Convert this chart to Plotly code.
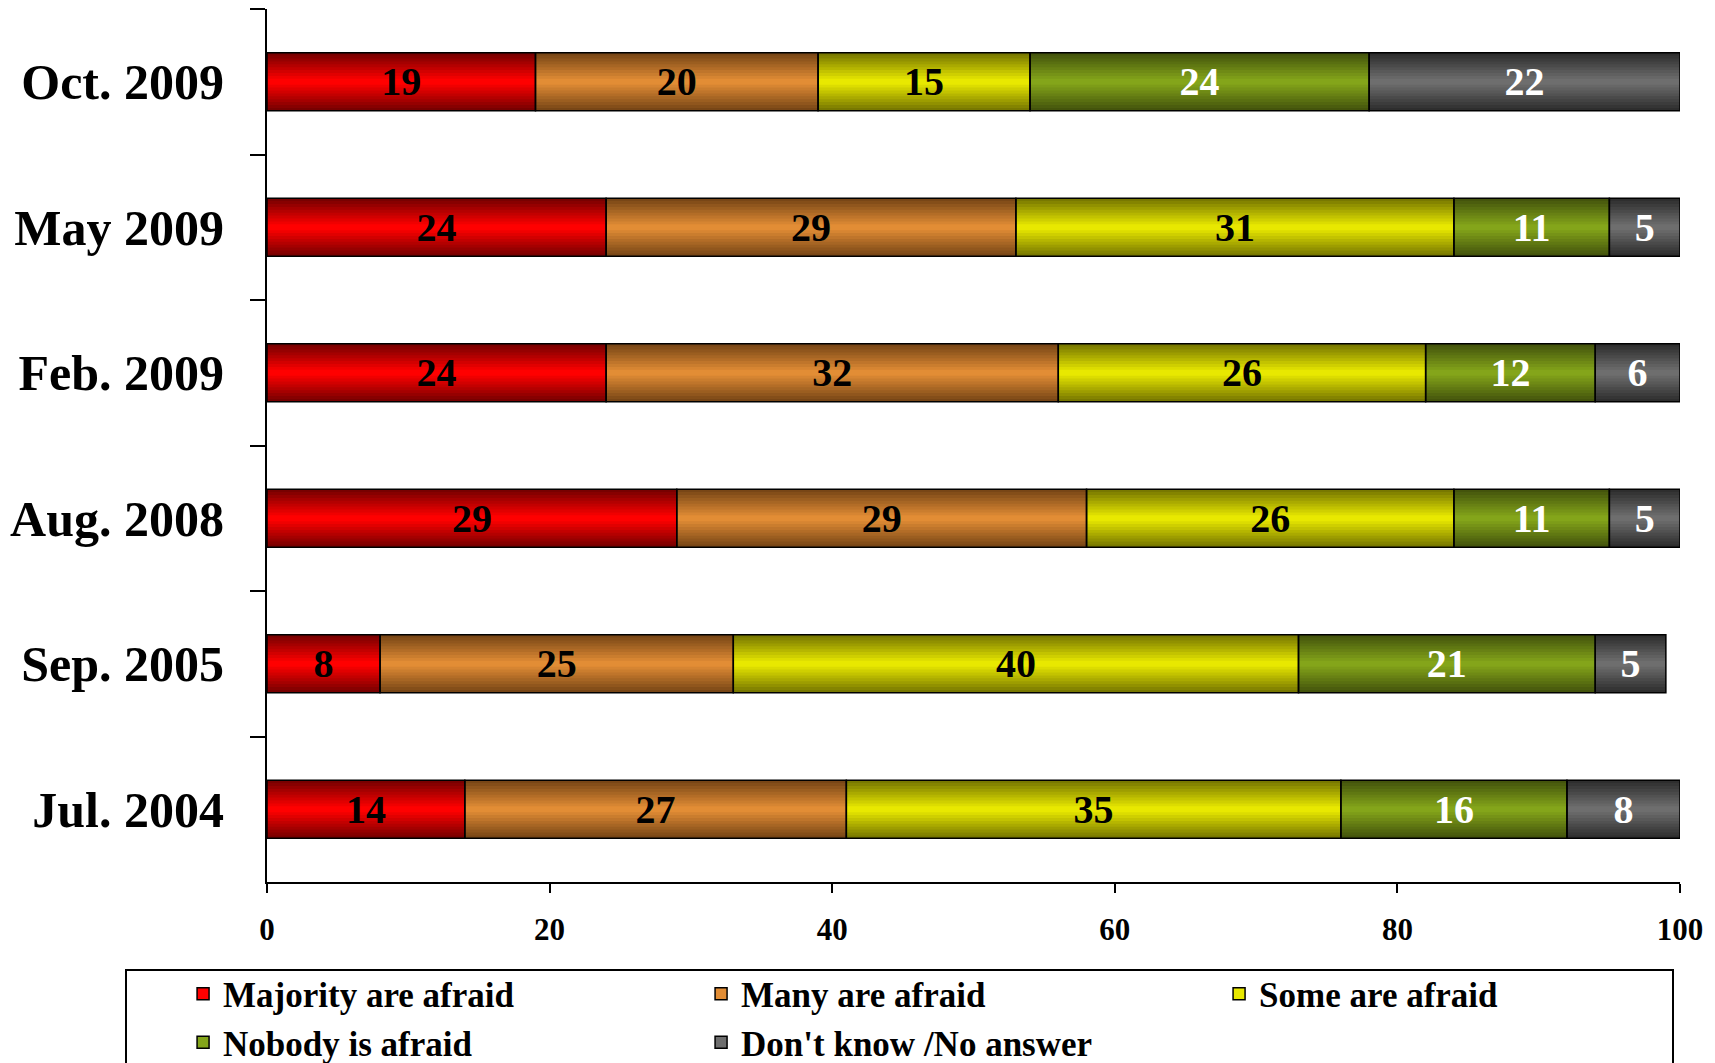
import plotly.graph_objects as go

dates = ["Oct. 2009", "May 2009", "Feb. 2009", "Aug. 2008", "Sep. 2005", "Jul. 2004"]
series_names = ["Majority are afraid", "Many are afraid", "Some are afraid",
                "Nobody is afraid", "Don't know /No answer"]
majority = [19, 24, 24, 29, 8, 14]
many = [20, 29, 32, 29, 25, 27]
some = [15, 31, 26, 26, 40, 35]
nobody = [24, 11, 12, 11, 21, 16]
dontknow = [22, 5, 6, 5, 5, 8]
values = [majority, many, some, nobody, dontknow]

center_colors = ["#ff0000", "#e28d35", "#e8e800", "#84a51a", "#6e6e6e"]
edge_colors = ["#780000", "#784616", "#787800", "#44540c", "#2e2e2e"]
text_colors = ["black", "black", "black", "white", "white"]

FONT = "Liberation Serif, Times New Roman, serif"
BAR_W = 0.4
N_LAYERS = 10

# layout geometry (figure pixels)
L, T, R, B = 259, 1, 43, 189
PW = 1715 - L - R
PH = 1063 - T - B


def hex2rgb(h):
    h = h.lstrip("#")
    return tuple(int(h[i:i + 2], 16) for i in (0, 2, 4))


def mix(c1, c2, t):
    a, b = hex2rgb(c1), hex2rgb(c2)
    return "rgb(%d,%d,%d)" % tuple(round(a[i] + (b[i] - a[i]) * t) for i in range(3))


fig = go.Figure()

bases = []
running = [0] * len(dates)
for vals in values:
    bases.append(list(running))
    running = [r + v for r, v in zip(running, vals)]

# gradient layers
for si, vals in enumerate(values):
    for k in range(N_LAYERS):
        t = k / (N_LAYERS - 1)
        w = BAR_W * (1 - k / N_LAYERS)
        fig.add_trace(go.Bar(
            y=dates, x=vals, base=bases[si], orientation="h",
            width=w,
            marker=dict(color=mix(edge_colors[si], center_colors[si], t), line=dict(width=0)),
            showlegend=False, hoverinfo="skip",
        ))

# legend entries
for si, name in enumerate(series_names):
    fig.add_trace(go.Bar(
        y=dates, x=[0] * len(dates), base=bases[si], orientation="h", width=0.0001,
        name=name, legendrank=si + 1,
        marker=dict(color=center_colors[si], line=dict(color="black", width=1.5)),
        showlegend=True, hoverinfo="skip",
    ))

# outline + text layer on top
for si, vals in enumerate(values):
    fig.add_trace(go.Bar(
        y=dates, x=vals, base=bases[si], orientation="h", width=BAR_W,
        marker=dict(color="rgba(0,0,0,0)", line=dict(color="black", width=1.5)),
        text=[str(v) for v in vals], textposition="inside",
        insidetextanchor="middle", textangle=0, constraintext="none",
        textfont=dict(family=FONT, size=40, color=text_colors[si], weight="bold"),
        showlegend=False, hoverinfo="skip",
    ))

fig.update_layout(
    barmode="overlay",
    width=1715, height=1063,
    margin=dict(l=L, r=R, t=T, b=B, autoexpand=False),
    paper_bgcolor="white", plot_bgcolor="white",
    font=dict(family=FONT, color="black", weight="bold"),
    showlegend=True,
    legend=dict(
        orientation="h", x=-0.0594, y=-0.0945, xanchor="left", yanchor="top",
        font=dict(family=FONT, size=35, color="black", weight="bold"),
        entrywidth=473, entrywidthmode="pixels",
        bgcolor="rgba(0,0,0,0)", borderwidth=0, tracegroupgap=0,
        traceorder="normal",
    ),
    shapes=[dict(type="rect", xref="paper", yref="paper",
                 x0=(118 - L) / PW, x1=(1665 - L) / PW,
                 y0=-0.4, y1=-(962 - (T + PH)) / PH,
                 line=dict(color="black", width=2), fillcolor="rgba(0,0,0,0)",
                 layer="below")],
)

fig.update_xaxes(
    range=[0, 100], dtick=20, tick0=0, showgrid=False, zeroline=False,
    showline=True, linecolor="black", linewidth=2,
    ticks="outside", ticklen=9, tickwidth=2, tickcolor="black",
    tickfont=dict(family=FONT, size=31, color="black", weight="bold"),
    ticklabelstandoff=10, automargin=False,
)
fig.update_yaxes(
    autorange="reversed", categoryorder="array", categoryarray=dates,
    showgrid=False, zeroline=False,
    showline=True, linecolor="black", linewidth=2,
    ticks="outside", ticklen=15, tickwidth=2, tickcolor="black",
    tickson="boundaries",
    tickfont=dict(family=FONT, size=50, color="black", weight="bold"),
    ticklabelstandoff=31, automargin=False,
)

fig.write_html("out.html")
